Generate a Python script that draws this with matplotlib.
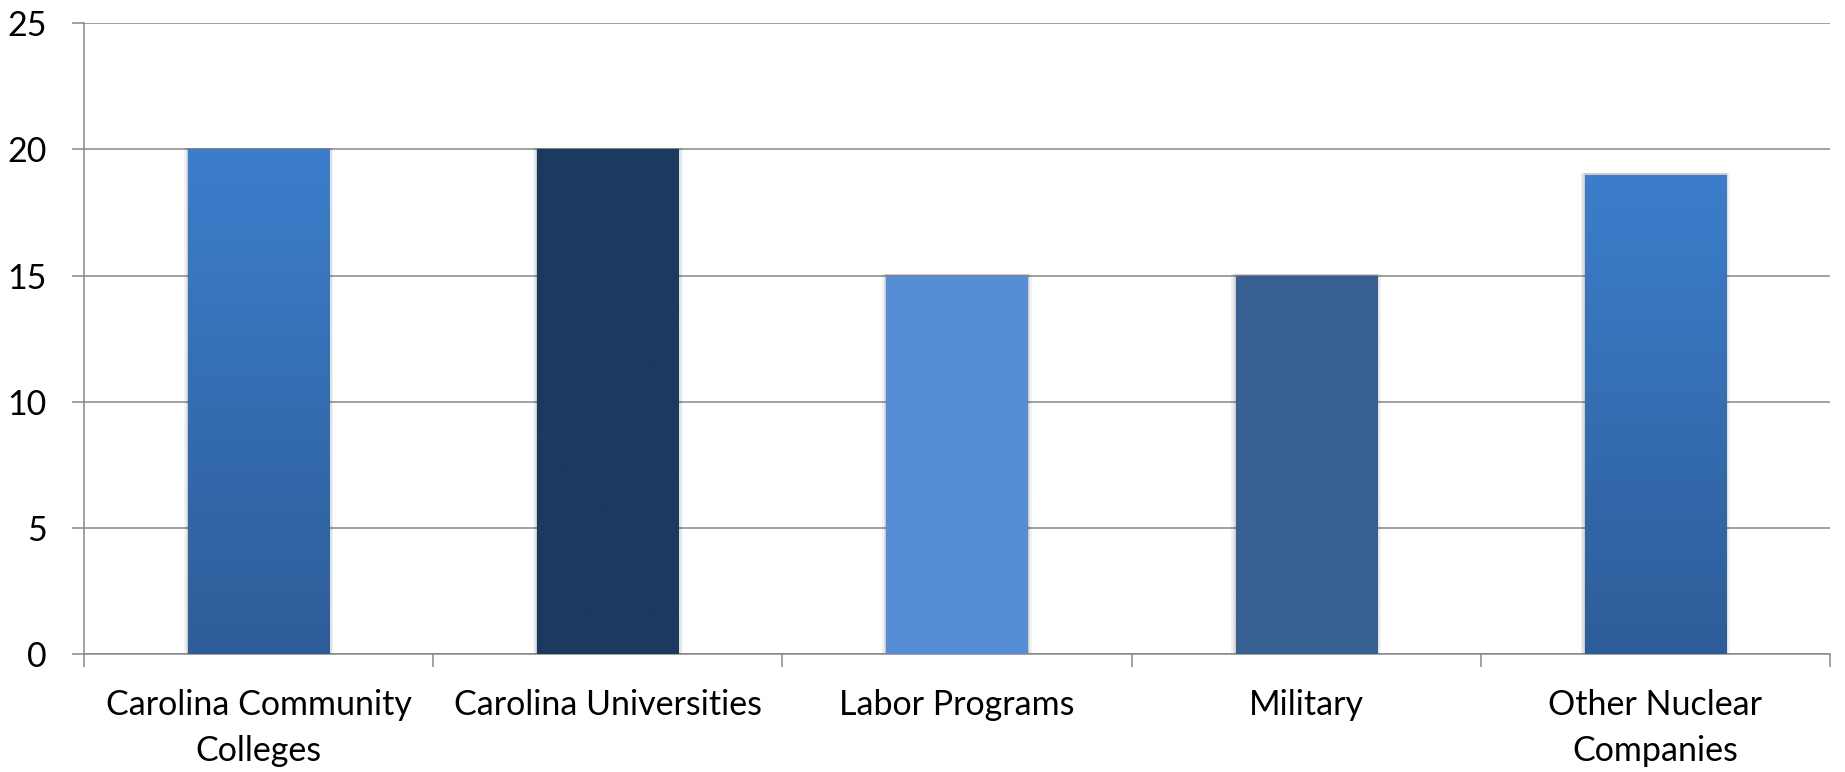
import numpy as np
import matplotlib
matplotlib.use("Agg")
import matplotlib.pyplot as plt
from matplotlib.colors import LinearSegmentedColormap

# data
categories = ["Carolina Community\nColleges", "Carolina Universities", "Labor Programs",
              "Military", "Other Nuclear\nCompanies"]
values = [20, 20, 15, 15, 19]
# (top colour, bottom colour) per bar
bar_colors = [("#3C7ECC", "#2D5D98"), ("#1B3A5F", "#1B3A5F"), ("#558ED5", "#558ED5"),
              ("#366192", "#366192"), ("#3C7ECC", "#2D5D98")]
y_ticks = [0, 5, 10, 15, 20, 25]

plt.rcParams['font.family'] = ['Lato', 'DejaVu Sans']

fig = plt.figure(figsize=(18.45, 7.72), dpi=100)
ax = fig.add_axes([0.0455, 0.1528, 0.9464, 0.8172])

x = np.arange(len(categories))
grid_c = "#878787"

ax.set_ylim(0, 25)
ax.set_xlim(-0.5, len(categories) - 0.5)
ax.set_yticks(y_ticks)
ax.yaxis.grid(True, color=grid_c, linewidth=1.1)
ax.set_axisbelow(True)

bars = ax.bar(x, values, width=0.404, zorder=3)
for b, (top, bot) in zip(bars, bar_colors):
    b.set_facecolor("none")
    b.set_edgecolor("none")
    x0, y0 = b.get_x(), b.get_y()
    w, h = b.get_width(), b.get_height()
    cmap = LinearSegmentedColormap.from_list("g", [bot, top])
    grad = np.linspace(0, 1, 256).reshape(-1, 1)
    im = ax.imshow(grad, cmap=cmap, aspect="auto", origin="lower",
                   extent=[x0, x0 + w, y0, y0 + h], zorder=3)
    im.set_clip_path(b)
    # soft shadow
    for k, a in [(0.012, 0.05), (0.007, 0.07), (0.003, 0.09)]:
        ax.add_patch(plt.Rectangle((x0 - k, y0), w + 2 * k, h + 0.05, color="black",
                                   alpha=a, linewidth=0, zorder=2.5))

for s in ["top", "right"]:
    ax.spines[s].set_visible(False)
ax.spines["left"].set_color(grid_c)
ax.spines["bottom"].set_color(grid_c)
ax.spines["left"].set_linewidth(1.1)
ax.spines["bottom"].set_linewidth(1.1)

# category labels at centres, tick marks at boundaries
ax.set_xticks(x)
ax.set_xticklabels(categories, fontsize=24.5, linespacing=1.55)
ax.tick_params(axis="x", which="major", length=0, pad=25)
ax.set_xticks(np.arange(len(categories) + 1) - 0.5, minor=True)
ax.tick_params(axis="x", which="minor", length=9, width=1.1, color=grid_c)
ax.tick_params(axis="y", length=9, width=1.1, color=grid_c, labelsize=24.5, pad=18)

fig.savefig("out.png", dpi=100, facecolor="white")
